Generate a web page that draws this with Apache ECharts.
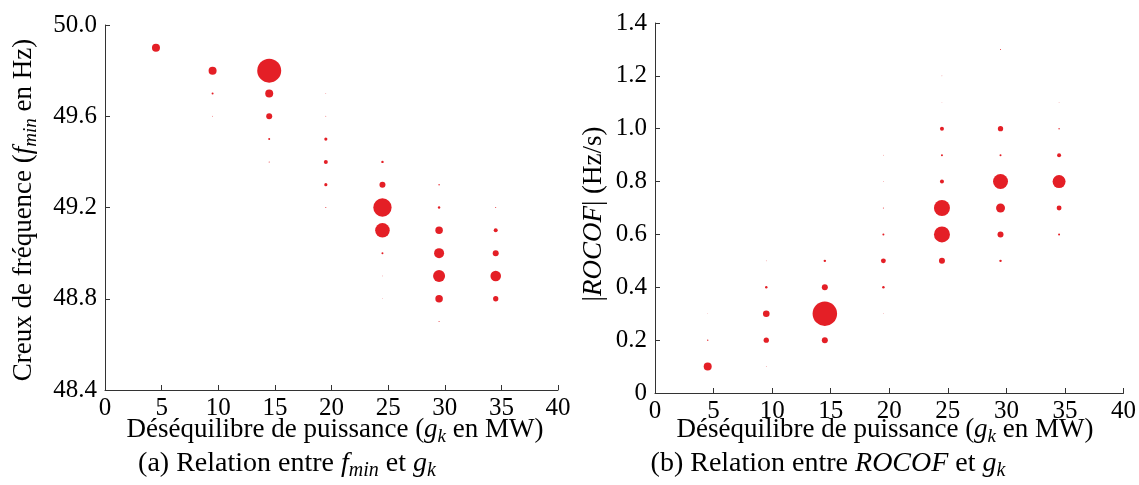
<!DOCTYPE html>
<html><head><meta charset="utf-8">
<script src="https://cdn.jsdelivr.net/npm/echarts@6/dist/echarts.min.js"></script>
<style>html,body{margin:0;padding:0;background:#fff}#c{width:1139px;height:485px}</style>
</head><body><div id="c"></div><script>
// Tick labels
const xTickLabels = ['0','5','10','15','20','25','30','35','40'];
const fminTickLabels = ['48.4','48.8','49.2','49.6','50.0'];
const rocofTickLabels = ['0','0.2','0.4','0.6','0.8','1.0','1.2','1.4'];

// (a) f_min vs g_k : x = imbalance (MW), y = f_min (Hz), w = relative occurrence weight
const fminX = [4.5, 9.5,9.5,9.5, 14.5,14.5,14.5,14.5,14.5, 19.5,19.5,19.5,19.5,19.5,19.5,
  24.5,24.5,24.5,24.5,24.5,24.5,24.5, 29.5,29.5,29.5,29.5,29.5,29.5,29.5, 34.5,34.5,34.5,34.5,34.5];
const fminY = [49.9, 49.8,49.7,49.6, 49.8,49.7,49.6,49.5,49.4, 49.7,49.6,49.5,49.4,49.3,49.2,
  49.4,49.3,49.2,49.1,49.0,48.9,48.8, 49.3,49.2,49.1,49.0,48.9,48.8,48.7, 49.2,49.1,49.0,48.9,48.8];
const fminW = [16, 16,1,0.15, 144,16,9,1,0.25, 0.1,0.15,2.5,4,2.5,0.25,
  1.5,9,84,53,1,0.1,0.1, 0.5,1.5,14,25,36,14,0.25, 0.25,4,9,28,7];

// (b) |ROCOF| vs g_k
const rocofX = [4.5,4.5,4.5, 9.5,9.5,9.5,9.5,9.5, 14.5,14.5,14.5,14.5, 19.5,19.5,19.5,19.5,19.5,19.5,19.5,
  24.5,24.5,24.5,24.5,24.5,24.5,24.5,24.5, 29.5,29.5,29.5,29.5,29.5,29.5,29.5, 34.5,34.5,34.5,34.5,34.5,34.5];
const rocofY = [0.1,0.2,0.3, 0.1,0.2,0.3,0.4,0.5, 0.2,0.3,0.4,0.5, 0.3,0.4,0.5,0.6,0.7,0.8,0.9,
  0.5,0.6,0.7,0.8,0.9,1.0,1.1,1.2, 0.5,0.6,0.7,0.8,0.9,1.0,1.3, 0.6,0.7,0.8,0.9,1.0,1.1];
const rocofW = [16,0.5,0.05, 0.1,7,11,1.5,0.1, 9,150,9,1.5, 0.1,1.5,6,1,0.25,0.1,0.1,
  9,64,64,4,1,4,0.05,0.1, 1.5,9,20,56,1,7,0.25, 1,6,42,4,0.5,0.1];

const FONT = 'Liberation Serif';
const RED = '#e41f26';
const AX = '#333';

const chart = echarts.init(document.getElementById('c'), null, {renderer: 'canvas'});

function xAxisCfg(idx) {
  return {
    gridIndex: idx, type: 'value', min: 0, max: 40, interval: 5,
    axisLine: {show: true, onZero: false, lineStyle: {color: AX, width: 1}},
    axisTick: {show: true, inside: true, length: 5, lineStyle: {color: AX}},
    splitLine: {show: false},
    axisLabel: {fontFamily: FONT, fontSize: 25, color: '#000', margin: 6,
      formatter: v => xTickLabels[Math.round(v / 5)]}
  };
}
function yAxisCfg(idx, min, max, interval, labels) {
  return {
    gridIndex: idx, type: 'value', min: min, max: max, interval: interval,
    axisLine: {show: true, onZero: false, lineStyle: {color: AX, width: 1}},
    axisTick: {show: true, inside: true, length: 5, lineStyle: {color: AX}},
    splitLine: {show: false},
    axisLabel: {fontFamily: FONT, fontSize: 25, color: '#000', margin: 8,
      formatter: v => labels[Math.round((v - min) / interval)]}
  };
}

function makeRich(fs) {
  return {
    r: {fontFamily: FONT, fontSize: fs, color: '#000', lineHeight: fs + 5},
    i: {fontFamily: FONT, fontSize: fs, fontStyle: 'italic', color: '#000', lineHeight: fs + 5},
    s: {fontFamily: FONT, fontSize: Math.round(fs * 0.7), fontStyle: 'italic', color: '#000',
        lineHeight: Math.round(fs * 0.7), verticalAlign: 'bottom'}
  };
}
function txt(x, y, text, fs, rot) {
  return {
    type: 'text', x: x, y: y, rotation: rot || 0, silent: true,
    style: {text: text, rich: makeRich(fs), fontFamily: FONT, fontSize: fs, fill: '#000',
      align: 'center', verticalAlign: 'middle', textAlign: 'center', textVerticalAlign: 'middle'}
  };
}

chart.setOption({
  animation: false,
  backgroundColor: '#fff',
  grid: [
    {left: 105, top: 25, width: 453, height: 365},
    {left: 655, top: 23, width: 470, height: 370}
  ],
  xAxis: [xAxisCfg(0), xAxisCfg(1)],
  yAxis: [yAxisCfg(0, 48.4, 50.0, 0.4, fminTickLabels), yAxisCfg(1, 0, 1.4, 0.2, rocofTickLabels)],
  series: [
    {type: 'scatter', xAxisIndex: 0, yAxisIndex: 0,
      data: fminX.map((x, i) => [x, fminY[i], fminW[i]]),
      symbolSize: d => 2 * Math.sqrt(d[2]),
      itemStyle: {color: RED, opacity: 1}},
    {type: 'scatter', xAxisIndex: 1, yAxisIndex: 1,
      data: rocofX.map((x, i) => [x, rocofY[i], rocofW[i]]),
      symbolSize: d => 2 * Math.sqrt(d[2]),
      itemStyle: {color: RED, opacity: 1}}
  ],
  graphic: [
    txt(335, 430, '{r|Déséquilibre de puissance (}{i|g}{s|k}{r| en MW)}', 27),
    txt(885, 430, '{r|Déséquilibre de puissance (}{i|g}{s|k}{r| en MW)}', 27),
    txt(287, 464, '{r|(a) Relation entre }{i|f}{s|min}{r| et }{i|g}{s|k}', 28),
    txt(828, 464, '{r|(b) Relation entre }{i|ROCOF}{r| et }{i|g}{s|k}', 28),
    txt(24, 210, '{r|Creux de fréquence (}{i|f}{s|min}{r| en Hz)}', 27, Math.PI / 2),
    txt(594, 214, '{r||}{i|ROCOF}{r|| (Hz/s)}', 27, Math.PI / 2)
  ]
});
</script></body></html>
